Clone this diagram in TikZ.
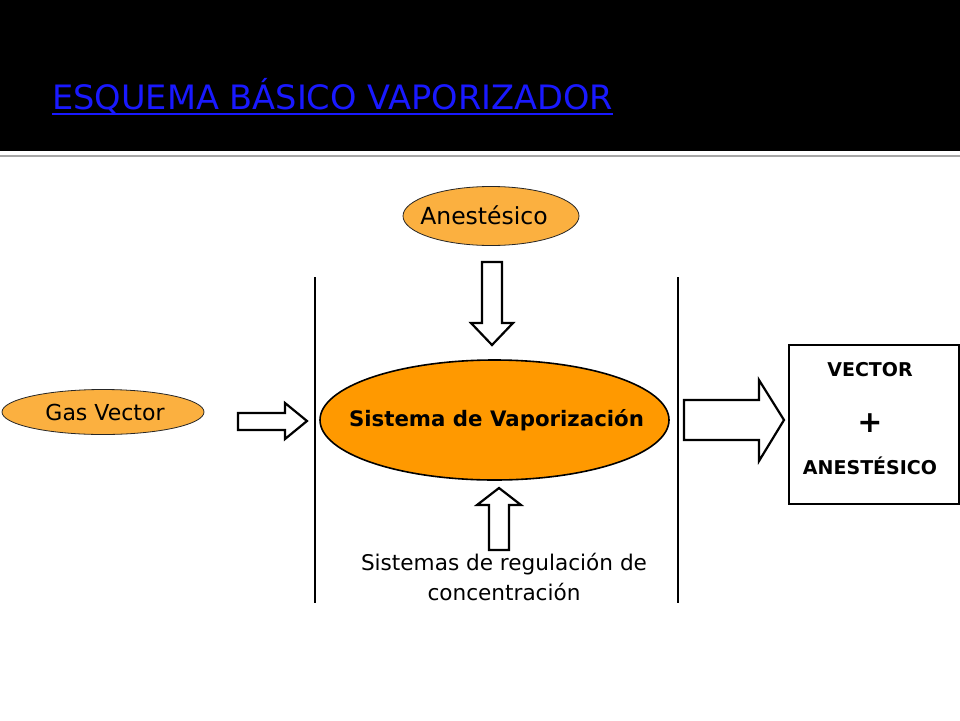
\documentclass[tikz,border=0pt]{standalone}
\usepackage{fontspec}
\setmainfont{DejaVu Sans}
\usetikzlibrary{shapes.geometric}
\definecolor{titleblue}{RGB}{25,25,255}
\definecolor{lightorange}{RGB}{251,176,64}
\definecolor{deeporange}{RGB}{255,153,0}
\tikzset{
  x=1pt, y=-1pt,
  smallell/.style={ellipse, draw=black!85, line width=0.8pt, fill=lightorange, inner sep=0pt},
  bigell/.style={ellipse, draw=black, line width=1.6pt, fill=deeporange, inner sep=0pt},
  blockarrow/.style={draw=black, fill=white, line width=2.2pt, line join=miter},
  divider/.style={draw=black, line width=1.1pt},
  boxtext/.style={font=\bfseries\fontsize{19}{22}\selectfont, inner sep=0pt},
}
\begin{document}
\begin{tikzpicture}
\useasboundingbox (0,0) rectangle (960,720);
\fill[white] (0,0) rectangle (960,720);
% header band
\fill[black] (0,0) rectangle (960,151);
\draw[gray!70, line width=2pt] (0,156) -- (960,156);
\node[anchor=base west, inner sep=0pt, text=titleblue, font=\fontsize{33.6}{38}\selectfont] (title) at (52,109) {ESQUEMA BÁSICO VAPORIZADOR};
\draw[titleblue, line width=2pt] (title.base west |- 0,114) -- (title.base east |- 0,114);
% dividers
\coordinate (dl1) at (315,277); \coordinate (dl2) at (315,603);
\coordinate (dr1) at (678,277); \coordinate (dr2) at (678,603);
\draw[divider] (dl1) -- (dl2);
\draw[divider] (dr1) -- (dr2);
% nodes
\node[smallell, minimum width=176pt, minimum height=59pt] (anest) at (491,216) {};
\node[inner sep=0pt, font=\fontsize{23.5}{26}\selectfont] (anestt) at (484,215) {Anestésico};
\node[smallell, minimum width=202pt, minimum height=45pt] (gas) at (103,412) {};
\node[inner sep=0pt, font=\fontsize{22}{25}\selectfont] (gast) at (105,412) {Gas Vector};
\node[bigell, minimum width=349pt, minimum height=120pt] (sys) at (494.5,420) {};
\node[inner sep=0pt, font=\bfseries\fontsize{21.3}{25}\selectfont] (syst) at (496.5,420) {Sistema de Vaporización};
\node[align=center, inner sep=0pt, font=\fontsize{21.6}{30}\selectfont] (reg) at (504,577) {Sistemas de regulación de\\concentración};
\node[draw=black, line width=2pt, minimum width=170pt, minimum height=159pt, inner sep=0pt] (out) at (874,424.5) {};
\node[boxtext] (vec) at (870,370) {VECTOR};
\node[inner sep=0pt, font=\bfseries\fontsize{30}{32}\selectfont] (plus) at (870,423) {+};
\node[boxtext] (an2) at (870,466) {ANESTÉSICO};
% block arrows
\draw[blockarrow] (482,262) -- (502,262) -- (502,323) -- (513,323) -- (492,345) -- (471,323) -- (482,323) -- cycle;
\draw[blockarrow] (238,413) -- (285,413) -- (285,403) -- (307,421) -- (285,439) -- (285,430) -- (238,430) -- cycle;
\draw[blockarrow] (489,550) -- (489,505) -- (477,505) -- (499,488) -- (521,505) -- (509,505) -- (509,550) -- cycle;
\draw[blockarrow] (684,400) -- (759,400) -- (759,380) -- (784,420) -- (759,461) -- (759,440) -- (684,440) -- cycle;
\end{tikzpicture}
\end{document}
